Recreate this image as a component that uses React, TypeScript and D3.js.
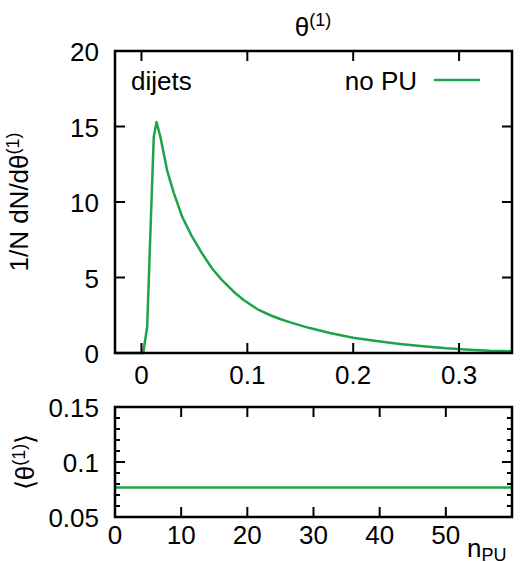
import React from "react";
import * as d3 from "d3";

const thetaX = [-0.025, 0.0, 0.0016, 0.0054, 0.0081, 0.0116, 0.0142, 0.0179, 0.0242, 0.0305, 0.0384, 0.0478, 0.0572, 0.0667, 0.0761, 0.0871, 0.0965, 0.1107, 0.1217, 0.131, 0.1406, 0.150, 0.159, 0.178, 0.2, 0.222, 0.244, 0.266, 0.288, 0.31, 0.329, 0.35];
const densityY = [0, 0, 0, 1.74, 7.26, 14.3, 15.3, 14.3, 12.1, 10.6, 9.03, 7.7, 6.6, 5.6, 4.83, 4.06, 3.51, 2.85, 2.5, 2.25, 2.03, 1.83, 1.65, 1.32, 1.01, 0.79, 0.60, 0.44, 0.31, 0.22, 0.15, 0.12];
const npu = [0, 60];
const meanTheta = [0.0768, 0.0768];

const topXTicks = [0, 0.1, 0.2, 0.3];
const topYTicks = [0, 5, 10, 15, 20];
const botXTicks = [0, 10, 20, 30, 40, 50];
const botYTicks = [0.05, 0.1, 0.15];
const botYMinor = [0.06, 0.07, 0.08, 0.09, 0.11, 0.12, 0.13, 0.14];

const GREEN = "#1fa34a";
const FONT = "'Liberation Sans', Arial, Helvetica, sans-serif";
const FS = 26;
const SFS = 18;

export default function App() {
  const L = 115, R = 512;
  const tT = 51, tB = 353;
  const bT = 407, bB = 517;
  const x1 = d3.scaleLinear().domain([-0.025, 0.35]).range([L, R]);
  const y1 = d3.scaleLinear().domain([0, 20]).range([tB, tT]);
  const x2 = d3.scaleLinear().domain([0, 60]).range([L, R]);
  const y2 = d3.scaleLinear().domain([0.05, 0.15]).range([bB, bT]);

  const line1 = d3.line<number>().x((_, i) => x1(thetaX[i])).y((d) => y1(d))(densityY) || "";
  const line2 = d3.line<number>().x((_, i) => x2(npu[i])).y((d) => y2(d))(meanTheta) || "";

  const tk = 10, tkm = 5;
  return (
    <div style={{ position: "absolute", left: 0, top: 0 }}>
      <svg width={524} height={562} style={{ display: "block", fontFamily: FONT }}>
        <rect width={524} height={562} fill="#fff" />
        {/* Title */}
        <text x={313} y={36} fontSize={FS} textAnchor="middle" fill="#000">
          θ<tspan fontSize={SFS} dy={-10}>(1)</tspan>
        </text>

        {/* Top panel */}
        <path d={line1} fill="none" stroke={GREEN} strokeWidth={2.5} strokeLinejoin="round" />
        {topXTicks.map((t) => (
          <g key={"tx" + t}>
            <line x1={x1(t)} x2={x1(t)} y1={tB} y2={tB - tk} stroke="#000" strokeWidth={2} />
            <line x1={x1(t)} x2={x1(t)} y1={tT} y2={tT + tk} stroke="#000" strokeWidth={2} />
            <text x={x1(t)} y={384} fontSize={FS} textAnchor="middle">{String(t)}</text>
          </g>
        ))}
        {topYTicks.map((t) => (
          <g key={"ty" + t}>
            <line x1={L} x2={L + tk} y1={y1(t)} y2={y1(t)} stroke="#000" strokeWidth={2} />
            <line x1={R} x2={R - tk} y1={y1(t)} y2={y1(t)} stroke="#000" strokeWidth={2} />
            <text x={99} y={y1(t) + 10} fontSize={FS} textAnchor="end">{String(t)}</text>
          </g>
        ))}
        <rect x={L} y={tT} width={R - L} height={tB - tT} fill="none" stroke="#000" strokeWidth={2.5} />
        <text x={131} y={90} fontSize={FS}>dijets</text>
        <text x={417} y={90} fontSize={FS} textAnchor="end">no PU</text>
        <line x1={434} x2={480} y1={80} y2={80} stroke={GREEN} strokeWidth={2.5} />
        <text transform={`translate(28,${(tT + tB) / 2}) rotate(-90)`} fontSize={FS} textAnchor="middle">
          1/N dN/dθ<tspan fontSize={SFS} dy={-9}>(1)</tspan>
        </text>

        {/* Bottom panel */}
        <path d={line2} fill="none" stroke={GREEN} strokeWidth={2.5} />
        {botXTicks.map((t) => (
          <g key={"bx" + t}>
            <line x1={x2(t)} x2={x2(t)} y1={bB} y2={bB - tk} stroke="#000" strokeWidth={2} />
            <line x1={x2(t)} x2={x2(t)} y1={bT} y2={bT + tk} stroke="#000" strokeWidth={2} />
            <text x={x2(t)} y={544} fontSize={FS} textAnchor="middle">{String(t)}</text>
          </g>
        ))}
        {botYTicks.map((t) => (
          <g key={"by" + t}>
            <line x1={L} x2={L + tk} y1={y2(t)} y2={y2(t)} stroke="#000" strokeWidth={2} />
            <line x1={R} x2={R - tk} y1={y2(t)} y2={y2(t)} stroke="#000" strokeWidth={2} />
            <text x={99} y={y2(t) + 10} fontSize={FS} textAnchor="end">{String(t)}</text>
          </g>
        ))}
        {botYMinor.map((t) => (
          <g key={"bm" + t}>
            <line x1={L} x2={L + tkm} y1={y2(t)} y2={y2(t)} stroke="#000" strokeWidth={2} />
            <line x1={R} x2={R - tkm} y1={y2(t)} y2={y2(t)} stroke="#000" strokeWidth={2} />
          </g>
        ))}
        <rect x={L} y={bT} width={R - L} height={bB - bT} fill="none" stroke="#000" strokeWidth={2.5} />
        <text x={467} y={557} fontSize={FS}>
          n<tspan fontSize={SFS} dy={4}>PU</tspan>
        </text>
        <text transform={`translate(34,${(bT + bB) / 2}) rotate(-90)`} fontSize={FS} textAnchor="middle">
          ⟨θ<tspan fontSize={SFS} dy={-9}>(1)</tspan><tspan fontSize={FS} dy={9}>⟩</tspan>
        </text>
      </svg>
    </div>
  );
}
